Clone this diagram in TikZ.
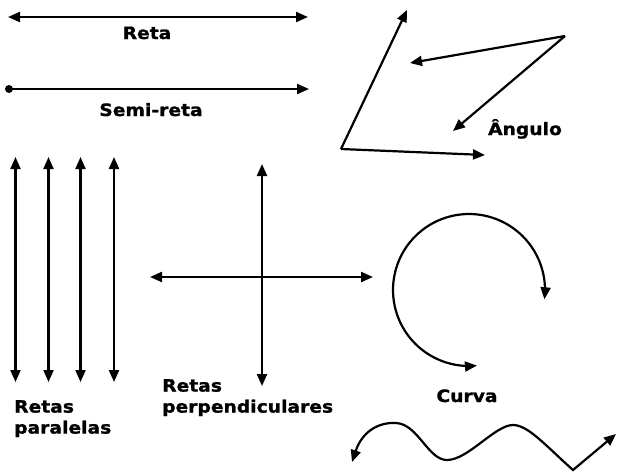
\documentclass[tikz,border=0pt]{standalone}
\usepackage{fontspec}
\setmainfont{DejaVu Sans}[FakeStretch=1.1, BoldFeatures={FakeBold=1.2}]
\usetikzlibrary{arrows.meta}

\tikzset{
    lbl/.style={inner sep=0pt, font=\bfseries\fontsize{17}{21}\selectfont},
    ln/.style={line width=2.2pt}
}

\begin{document}
\begin{tikzpicture}[x=1pt, y=-1pt, >={Triangle[length=12pt,width=10pt]}]
    \useasboundingbox (0,0) rectangle (618,472);

    % reta e semi-reta
    \draw[ln, <->] (8,17) -- (308,17);
    \node[lbl, anchor=base] (reta) at (147,39) {Reta};
    \fill (9,89) circle [radius=4];
    \draw[ln, ->] (9,89) -- (309,89);
    \node[lbl, anchor=base] (semireta) at (151,116) {Semi-reta};

    % angulos
    \coordinate (v1) at (341,149);
    \draw[ln, ->] (v1) -- (407,10);
    \draw[ln, ->] (v1) -- (485,155);
    \coordinate (v2) at (565,36);
    \draw[ln, ->] (v2) -- (410,63);
    \draw[ln, ->] (v2) -- (453,131);
    \node[lbl, anchor=base] (angulo) at (525,135) {Ângulo};

    % paralelas
    \foreach \x in {15.5,48.5,80.5,114} {
        \draw[ln, <->] (\x,157) -- (\x,382);
    }
    \node[lbl, anchor=north west, align=left] (paralelas) at (14,400) {Retas\\paralelas};

    % perpendiculares
    \draw[ln, <->] (150,277) -- (373,277);
    \draw[ln, <->] (262,164) -- (262,386);
    \node[lbl, anchor=north west, align=left] (perpend) at (162,379) {Retas\\perpendiculares};

    % curva
    \draw[ln, <->] plot[smooth, domain=84:367, samples=60] ({469+76*cos(\x)},{290+76*sin(\x)});
    \node[lbl, anchor=base] (curva) at (467,402) {Curva};

    \draw[ln, <->] (352,462) .. controls (362,432) and (378,422) .. (396,423)
        .. controls (418,424) and (428,460) .. (447,460)
        .. controls (468,460) and (495,425) .. (513,425)
        .. controls (528,425) and (545,445) .. (573,470) -- (616,434);

\end{tikzpicture}
\end{document}
